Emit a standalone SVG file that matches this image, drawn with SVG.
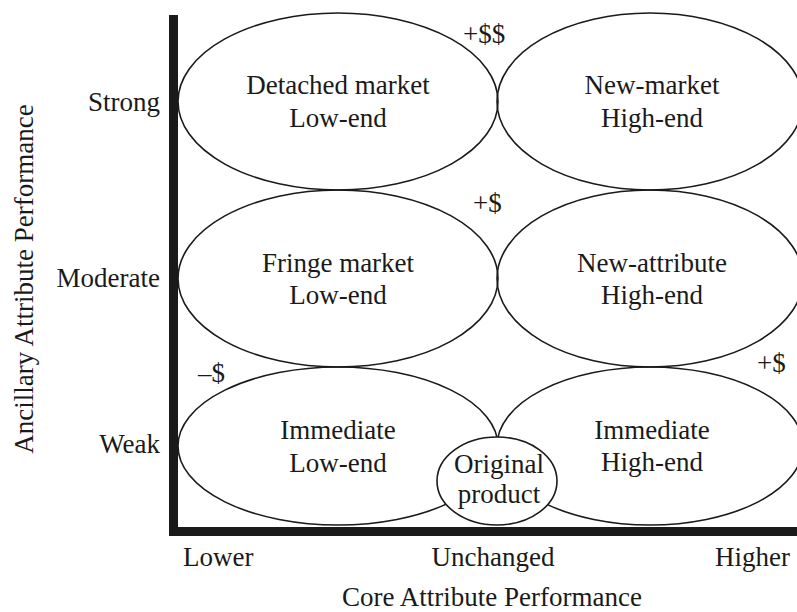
<svg xmlns="http://www.w3.org/2000/svg" width="797" height="612" viewBox="0 0 797 612">
<style>
text{font-family:"Liberation Serif","Times New Roman",serif;font-size:27px;fill:#1a1a1a}
.c{text-anchor:middle}
.e{text-anchor:end}
.ell{fill:none;stroke:#1a1a1a;stroke-width:1.6}
.axis{stroke:#1a1a1a;stroke-width:9;fill:none}
</style>
<rect width="797" height="612" fill="#fff"/>
<g id="axes">
<path class="axis" d="M173.5 15 V536 M169 531.5 H797"/>
</g>
<g id="y-labels">
<text class="e" x="160" y="111">Strong</text>
<text class="e" x="160" y="287">Moderate</text>
<text class="e" x="160" y="453">Weak</text>
<text class="c" transform="translate(33,279) rotate(-90)">Ancillary Attribute Performance</text>
</g>
<g id="x-labels">
<text x="183" y="566">Lower</text>
<text class="c" x="493" y="566">Unchanged</text>
<text class="e" x="790" y="566">Higher</text>
<text class="c" x="492" y="606">Core Attribute Performance</text>
</g>
<g id="detached">
<ellipse class="ell" cx="338" cy="101.5" rx="160" ry="88.5"/>
<text class="c" x="338" y="94">Detached market</text>
<text class="c" x="338" y="127">Low-end</text>
</g>
<g id="new-market">
<ellipse class="ell" cx="650" cy="101.5" rx="153" ry="88.5"/>
<text class="c" x="652" y="94">New-market</text>
<text class="c" x="652" y="127">High-end</text>
</g>
<g id="fringe">
<ellipse class="ell" cx="338" cy="278.5" rx="160" ry="88.5"/>
<text class="c" x="338" y="272">Fringe market</text>
<text class="c" x="338" y="304">Low-end</text>
</g>
<g id="new-attribute">
<ellipse class="ell" cx="650" cy="278.5" rx="153" ry="88.5"/>
<text class="c" x="652" y="272">New-attribute</text>
<text class="c" x="652" y="304">High-end</text>
</g>
<g id="immediate-low">
<ellipse class="ell" cx="338" cy="446" rx="160" ry="79"/>
<text class="c" x="338" y="439">Immediate</text>
<text class="c" x="338" y="472">Low-end</text>
</g>
<g id="immediate-high">
<ellipse class="ell" cx="650" cy="446" rx="153" ry="79"/>
<text class="c" x="652" y="439">Immediate</text>
<text class="c" x="652" y="471">High-end</text>
</g>
<g id="original">
<ellipse cx="497" cy="481" rx="60" ry="44" fill="#fff" stroke="#1a1a1a" stroke-width="1.6"/>
<text class="c" x="499" y="473">Original</text>
<text class="c" x="499" y="503">product</text>
</g>
<g id="price-labels">
<text x="463" y="43">+$$</text>
<text x="473" y="212">+$</text>
<text x="198" y="382">–$</text>
<text x="757" y="372">+$</text>
</g>
<g id="connectors"></g>
</svg>
